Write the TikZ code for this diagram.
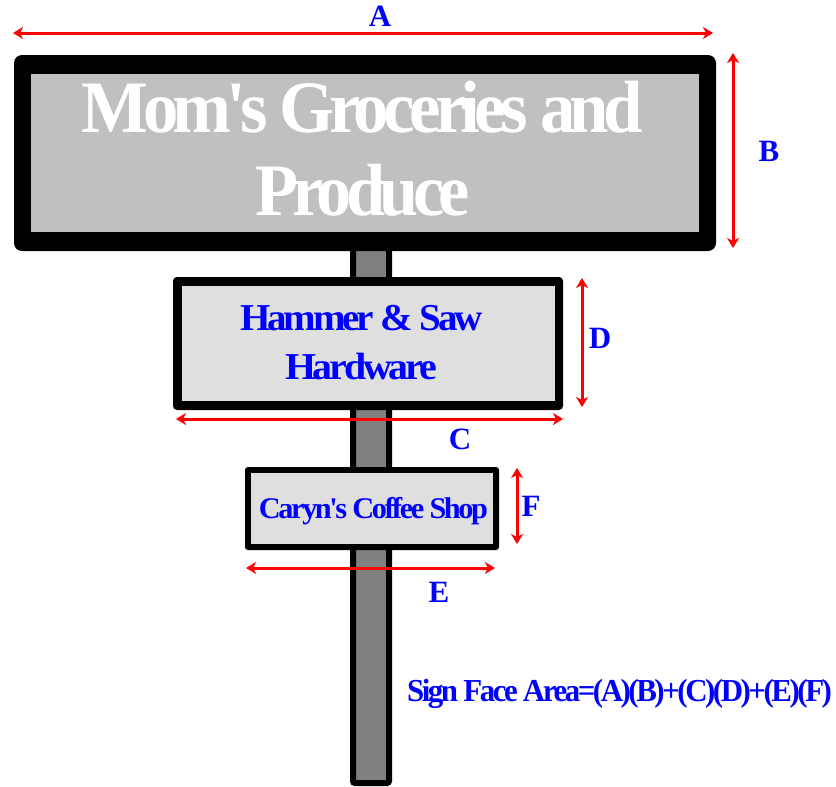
\documentclass[tikz,border=0pt]{standalone}
\usepackage{fontspec}
\usepackage{graphicx}
\setmainfont{Liberation Serif}
\newfontfamily\tightfont[LetterSpace=-8,Ligatures=NoCommon]{Liberation Serif}
\usetikzlibrary{arrows.meta}
\definecolor{biggray}{HTML}{C0C0C0}
\definecolor{smallgray}{HTML}{DFDFDF}
\definecolor{polegray}{HTML}{808080}
\definecolor{dimred}{HTML}{FF0000}
\definecolor{txtblue}{HTML}{0000FF}
\newcommand{\fitw}[3]{\resizebox{#1}{\height}{\fontsize{#2}{#2}\tightfont\bfseries #3}}
\tikzset{
  dim/.style={draw=dimred, line width=3pt, {Stealth[length=10pt,width=12pt,inset=3pt]}-{Stealth[length=10pt,width=12pt,inset=3pt]}},
  txt/.style={anchor=base, inner sep=0pt, outer sep=0pt},
  lbl/.style={txt, text=txtblue, font=\fontsize{31}{31}\selectfont\bfseries}
}
\begin{document}
\begin{tikzpicture}[x=1pt,y=-1pt]
\useasboundingbox (0,0) rectangle (836,787);
% pole
\draw[line width=6pt, fill=polegray, rounded corners=2pt] (353,240) rectangle (389,783);
% big sign
\fill[black, rounded corners=8pt] (14,55) rectangle (716,251);
\fill[biggray] (31,74) rectangle (699,232);
% middle sign
\fill[black, rounded corners=4pt] (173,277) rectangle (563,410);
\fill[smallgray] (182,286) rectangle (555,401);
% small sign
\fill[black, rounded corners=3pt] (245,467) rectangle (499,550);
\fill[smallgray] (251,473) rectangle (493,544);
% texts
\node[txt, text=white] (big1) at (362.5,132) {\fitw{561pt}{74}{Mom's Groceries and}};
\node[txt, text=white] (big2) at (362.5,215) {\fitw{215pt}{74}{Produce}};
\node[txt, text=txtblue] (mid1) at (361.5,330) {\fitw{243pt}{38}{Hammer \& Saw}};
\node[txt, text=txtblue] (mid2) at (361,379) {\fitw{152pt}{38}{Hardware}};
\node[txt, text=txtblue] (small1) at (373.5,518) {\fitw{229pt}{30}{Caryn's Coffee Shop}};
\node[txt, text=txtblue] (formula) at (619.5,701) {\fitw{425pt}{32}{Sign Face Area=(A)(B)+(C)(D)+(E)(F)}};
% dimension arrows
\coordinate (a1) at (13,33);  \coordinate (a2) at (713,33);
\coordinate (b1) at (733,53); \coordinate (b2) at (733,248);
\coordinate (c1) at (176,419); \coordinate (c2) at (563,419);
\coordinate (d1) at (582,278); \coordinate (d2) at (582,407);
\coordinate (e1) at (246,568); \coordinate (e2) at (495,568);
\coordinate (f1) at (517,468); \coordinate (f2) at (517,544);
\draw[dim] (a1) -- (a2);
\draw[dim] (b1) -- (b2);
\draw[dim] (c1) -- (c2);
\draw[dim] (d1) -- (d2);
\draw[dim] (e1) -- (e2);
\draw[dim] (f1) -- (f2);
% labels
\node[lbl] (la) at (380,26) {A};
\node[lbl] (lb) at (769,161) {B};
\node[lbl] (lc) at (460,449) {C};
\node[lbl] (ld) at (600,348) {D};
\node[lbl] (le) at (439,602) {E};
\node[lbl] (lf) at (531,516) {F};
\end{tikzpicture}
\end{document}
